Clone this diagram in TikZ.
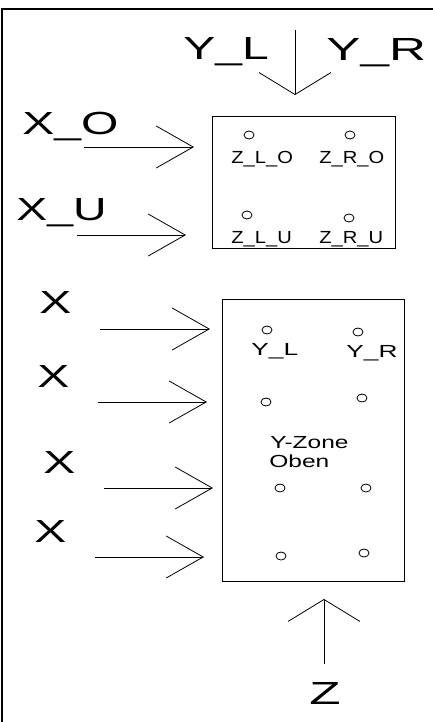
\documentclass[tikz,border=0pt]{standalone}
\usepackage{fontspec}
\setmainfont{Liberation Sans}
\usepackage{tikz}
\usetikzlibrary{positioning,shapes.geometric,arrows.meta}

\newcommand{\wide}[2]{\scalebox{#1}[1]{#2}}

\begin{document}
\begin{tikzpicture}
            [x=1pt,y=-1pt,line width=0.8pt,
             bigtext/.style={inner sep=0pt, anchor=base west, font=\fontsize{32}{36}\selectfont},
             smalltext/.style={inner sep=0pt, anchor=base west, font=\fontsize{17.5}{20}\selectfont},
             hole/.style={draw, ellipse, inner sep=0pt, minimum width=10pt, minimum height=8pt},
             zone/.style={draw, anchor=north west, inner sep=0pt},
             hhead/.style={-{Straight Barb[length=37pt,width=42pt,line width=0.8pt]}},
             vhead/.style={-{Straight Barb[length=22pt,width=72pt,line width=0.8pt]}}]
            \useasboundingbox (0,0) rectangle (433,722);
            \draw[line width=1.6pt] (2,760) -- (2,9) -- (470,9);

            % labels outside
            \node[bigtext] (yl) at (183,60) {\wide{1.5}{Y\_L}};
            \node[bigtext] (yr) at (326,61) {\wide{1.6}{Y\_R}};
            \node[bigtext] (xo) at (22,135) {\wide{1.5}{X\_O}};
            \node[bigtext] (xu) at (16,220) {\wide{1.45}{X\_U}};
            \node[bigtext] (x1) at (39,313) {\wide{1.5}{X}};
            \node[bigtext] (x2) at (37,387) {\wide{1.5}{X}};
            \node[bigtext] (x3) at (43,473) {\wide{1.5}{X}};
            \node[bigtext] (x4) at (34,542) {\wide{1.5}{X}};
            \node[bigtext] (z) at (309,704) {\wide{1.6}{Z}};

            % upper zone
            \node[zone, minimum width=183pt, minimum height=132pt] (upper) at (212,116) {};
            \node[hole] (hlo) at (249,135) {};
            \node[hole] (hro) at (350,135) {};
            \node[hole] (hlu) at (247,215) {};
            \node[hole] (hru) at (349,218) {};
            \node[smalltext] (zlo) at (231,164) {\wide{1.15}{Z\_L\_O}};
            \node[smalltext] (zro) at (319,164) {\wide{1.15}{Z\_R\_O}};
            \node[smalltext] (zlu) at (231,243) {\wide{1.15}{Z\_L\_U}};
            \node[smalltext] (zru) at (319,243) {\wide{1.15}{Z\_R\_U}};

            % lower zone
            \node[zone, minimum width=182pt, minimum height=282pt] (lower) at (222,299) {};
            \node[hole] (h1l) at (267,330) {};
            \node[hole] (h1r) at (358,332) {};
            \node[hole] (h2l) at (266,402) {};
            \node[hole] (h2r) at (362,398) {};
            \node[hole] (h3l) at (280,488) {};
            \node[hole] (h3r) at (366,488) {};
            \node[hole] (h4l) at (281,556) {};
            \node[hole] (h4r) at (364,553) {};
            \node[smalltext] (yls) at (251,355) {\wide{1.5}{Y\_L}};
            \node[smalltext] (yrs) at (346,357) {\wide{1.5}{Y\_R}};
            \node[smalltext] (yzone) at (270,448) {\wide{1.4}{Y-Zone}};
            \node[smalltext] (oben) at (269,467) {\wide{1.4}{Oben}};

            % arrow ends
            \coordinate (ytail) at (295,30);
            \coordinate (ytip) at (295,95);
            \coordinate (ztail) at (324,664);
            \coordinate (ztip) at (324,599);
            \coordinate (xotail) at (84,147);
            \coordinate (xotip) at (194,147);
            \coordinate (xutail) at (77,235);
            \coordinate (xutip) at (186,235);
            \coordinate (x1tail) at (100,329);
            \coordinate (x1tip) at (210,329);
            \coordinate (x2tail) at (98,402);
            \coordinate (x2tip) at (207,402);
            \coordinate (x3tail) at (104,488);
            \coordinate (x3tip) at (213,488);
            \coordinate (x4tail) at (95,557);
            \coordinate (x4tip) at (204,557);

            \draw[vhead] (ytail) -- (ytip);
            \draw[vhead] (ztail) -- (ztip);
            \foreach \from/\to in {xotail/xotip, xutail/xutip, x1tail/x1tip, x2tail/x2tip, x3tail/x3tip, x4tail/x4tip}
            \draw[hhead] (\from) -- (\to);
          \end{tikzpicture}
\end{document}
